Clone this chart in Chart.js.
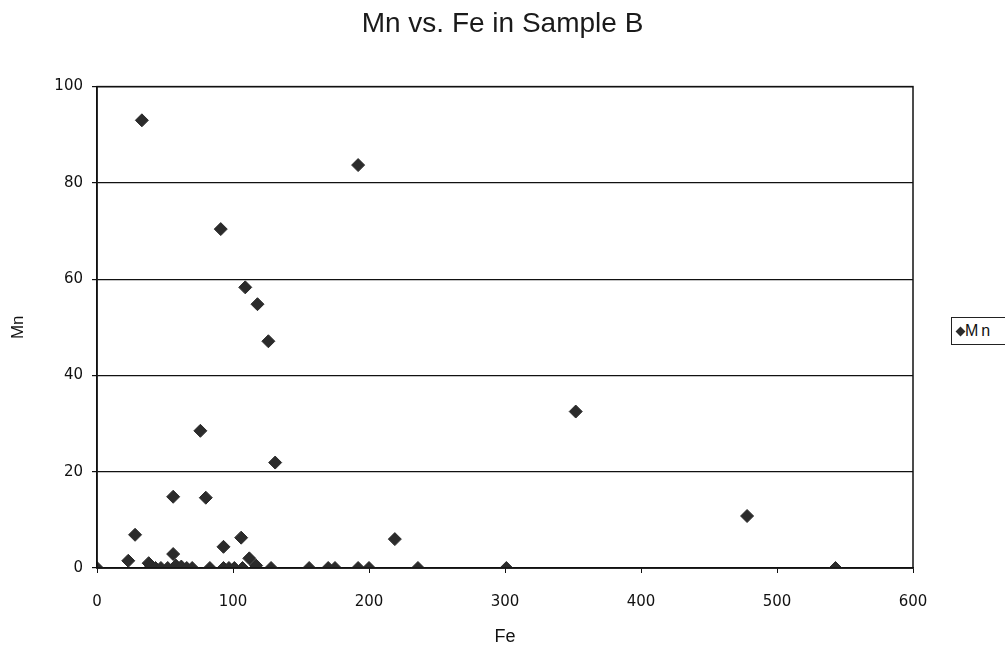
<!DOCTYPE html>
<html>
<head>
<meta charset="utf-8">
<script src="https://cdn.jsdelivr.net/npm/chart.js@4.4.1/dist/chart.umd.min.js"></script>
<style>
  html, body { margin: 0; padding: 0; background: #fff; }
  #wrap { position: relative; width: 1005px; height: 648px; }
  #legend {
    position: absolute; left: 951px; top: 317px; width: 60px; height: 28px;
    border: 1px solid #222; box-sizing: border-box; background: #fff;
    font: 16px "Liberation Sans", Arial, sans-serif; color: #111; letter-spacing: 3px;
    line-height: 26px; padding-left: 5px; white-space: nowrap;
  }
  #legend .mk { display: inline-block; width: 7px; height: 7px; background: #2b2b2b; transform: rotate(45deg); margin-right: 1px; vertical-align: 1px; }
</style>
</head>
<body>
<div id="wrap">
  <canvas id="chart" width="1005" height="648"></canvas>
  <div id="legend"><span class="mk"></span>Mn</div>
</div>
<script>
// Fe / Mn pairs
const fe = [0, 23, 28, 33, 38, 40, 43, 47, 52, 56, 56, 58, 62, 66, 70, 76, 80, 83, 91, 93,
            93, 97, 101, 106, 107, 109, 112, 117, 118, 126, 128, 131, 156, 170, 175, 192, 192, 200, 219, 236,
            301, 352, 478, 543];
const mn = [0, 1.5, 6.9, 93, 1, 0.3, 0, 0, 0, 14.8, 2.9, 0.5, 0.3, 0, 0, 28.5, 14.6, 0, 70.4, 4.4,
            0, 0, 0, 6.3, 0, 58.3, 2, 0.5, 54.8, 47.1, 0, 21.9, 0, 0, 0, 83.7, 0, 0, 6, 0,
            0, 32.5, 10.8, 0];
const xTicks = [0, 100, 200, 300, 400, 500, 600];
const yTicks = [0, 20, 40, 60, 80, 100];

const points = fe.map((x, i) => ({ x: x, y: mn[i] }));
const FONT = '"Liberation Sans", Arial, sans-serif';
const TICKFONT = '"DejaVu Sans", sans-serif';

// box round the plot area
const frame = {
  id: 'frame',
  afterDraw(chart) {
    const a = chart.chartArea, ctx = chart.ctx;
    ctx.save();
    ctx.strokeStyle = '#111';
    ctx.lineWidth = 1.5;
    ctx.strokeRect(a.left, a.top, a.right - a.left, a.bottom - a.top);
    ctx.restore();
  }
};

new Chart(document.getElementById('chart'), {
  type: 'scatter',
  data: {
    datasets: [{
      label: 'Mn',
      data: points,
      pointStyle: 'rectRot',
      pointRadius: 6.5,
      pointHoverRadius: 6.5,
      backgroundColor: '#2b2b2b',
      borderColor: '#2b2b2b',
      borderWidth: 1
    }]
  },
  options: {
    responsive: false,
    animation: false,
    layout: { padding: 0 },
    plugins: {
      legend: { display: false },
      tooltip: { enabled: false },
      title: {
        display: true,
        text: 'Mn vs. Fe in Sample B',
        color: '#1a1a1a',
        font: { family: FONT, size: 28, weight: 'normal' },
        padding: { top: 7, bottom: 46 }
      }
    },
    scales: {
      x: {
        type: 'linear',
        min: 0, max: 600,
        afterBuildTicks: s => { s.ticks = xTicks.map(v => ({ value: v })); },
        afterFit: s => { s.height = 80; },
        grid: { drawOnChartArea: false, color: '#111', tickLength: 5 },
        border: { color: '#111', width: 1.5 },
        ticks: { color: '#111', padding: 20, maxRotation: 0, font: { family: TICKFONT, size: 15 } },
        title: { display: true, text: 'Fe', color: '#111', font: { family: FONT, size: 18 }, padding: { top: 0, bottom: 0 } }
      },
      y: {
        type: 'linear',
        min: 0, max: 100,
        afterBuildTicks: s => { s.ticks = yTicks.map(v => ({ value: v })); },
        afterFit: s => { s.width = 97; },
        grid: { color: '#111', lineWidth: 1.2, tickLength: 5 },
        border: { color: '#111', width: 1.5 },
        ticks: { color: '#111', padding: 9, font: { family: TICKFONT, size: 15 } },
        title: { display: true, text: 'Mn', color: '#111', font: { family: FONT, size: 17 }, padding: { top: 8, bottom: 0 } }
      },
      // empty right-hand strip where the legend sits
      side: {
        type: 'linear',
        position: 'right',
        display: true,
        afterFit: s => { s.width = 92; },
        grid: { display: false },
        border: { display: false },
        ticks: { display: false }
      }
    }
  },
  plugins: [frame]
});
</script>
</body>
</html>
